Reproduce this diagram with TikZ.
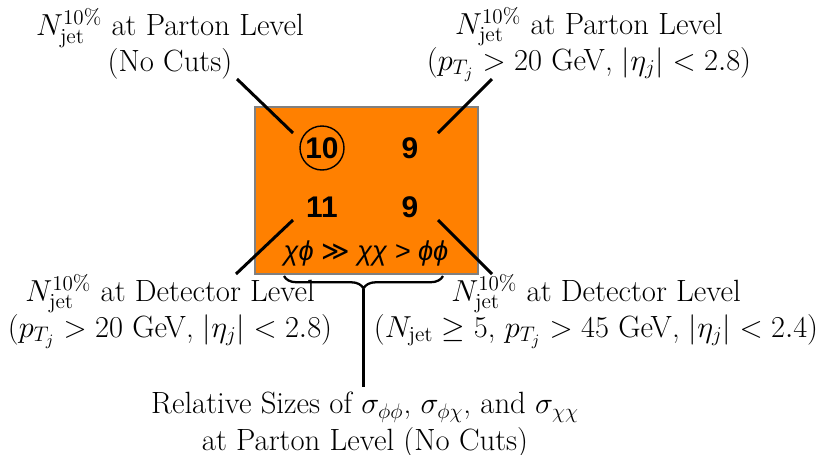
\documentclass[tikz,border=0pt]{standalone}
\usepackage{fontspec}
\newfontfamily\arialfont{Liberation Sans}
\newfontfamily\symfont{DejaVu Sans}
\usetikzlibrary{decorations.pathreplacing}
\definecolor{boxorange}{RGB}{255,128,0}
\definecolor{boxgray}{RGB}{128,128,128}

\begin{document}
\begin{tikzpicture}[
    x=0.02cm, y=-0.02cm,
    every node/.style={font=\fontsize{17.5}{20.6}\selectfont},
    lbl/.style={align=center},
    num/.style={font=\arialfont\bfseries\fontsize{17}{19}\selectfont},
    pointer/.style={line width=1.7pt},
    bracket/.style={line width=1.3pt, decorate,
        decoration={brace, mirror, amplitude=0.25cm}}
]
\useasboundingbox (0,0) rectangle (819,454);

% the box with the four counts
\node (box) [draw=boxgray, line width=1.2pt, fill=boxorange, anchor=north west,
    minimum width=4.46cm, minimum height=3.34cm] at (254,106) {};
\node[num] (n10) at (322,148) {10};
\node[num] (n9a) at (410,148) {9};
\node[num] (n11) at (322,207) {11};
\node[num] (n9b) at (410,207) {9};
\node[draw, circle, line width=0.8pt, minimum size=0.88cm] (ring) at (n10) {};
\node (ratio) at (366,253)
    {\arialfont\itshape\fontsize{15.5}{19}\selectfont χϕ {\symfont\upshape ≫} χχ > ϕϕ};

% labels
\node[lbl] (tl) at (170,44) {$N_{\rm jet}^{10\%}$ at Parton Level\\(No Cuts)};
\node[lbl] (tr) at (589,44) {$N_{\rm jet}^{10\%}$ at Parton Level\\
    ($p_{T_j} > 20$ GeV, $|\eta_j| < 2.8$)};
\node[lbl] (bl) at (170,311) {$N_{\rm jet}^{10\%}$ at Detector Level\\
    ($p_{T_j} > 20$ GeV, $|\eta_j| < 2.8$)};
\node[lbl] (br) at (596,311) {$N_{\rm jet}^{10\%}$ at Detector Level\\
    ($N_{\rm jet} \geq 5$, $p_{T_j} > 45$ GeV, $|\eta_j| < 2.4$)};
\node[lbl] (bot) at (365,425) {Relative Sizes of $\sigma_{\phi\phi}$,
    $\sigma_{\phi\chi}$, and $\sigma_{\chi\chi}$\\at Parton Level (No Cuts)};

% pointers
\coordinate (tl-a) at (237,79);   \coordinate (tl-b) at (293,133);
\coordinate (tr-a) at (492,79);   \coordinate (tr-b) at (438,133);
\coordinate (bl-a) at (236,274);  \coordinate (bl-b) at (293,220);
\coordinate (br-a) at (492,274);  \coordinate (br-b) at (438,220);
\draw[pointer] (tl-a) -- (tl-b);
\draw[pointer] (tr-a) -- (tr-b);
\draw[pointer] (bl-a) -- (bl-b);
\draw[pointer] (br-a) -- (br-b);

% brace
\coordinate (brace-l) at (284,276);
\coordinate (brace-r) at (443,276);
\coordinate (brace-tip) at (363.5,289);
\coordinate (stem-end) at (363.5,387);
\draw[bracket] (brace-l) -- (brace-r);
\draw[pointer] (brace-tip) -- (stem-end);
\end{tikzpicture}
\end{document}
